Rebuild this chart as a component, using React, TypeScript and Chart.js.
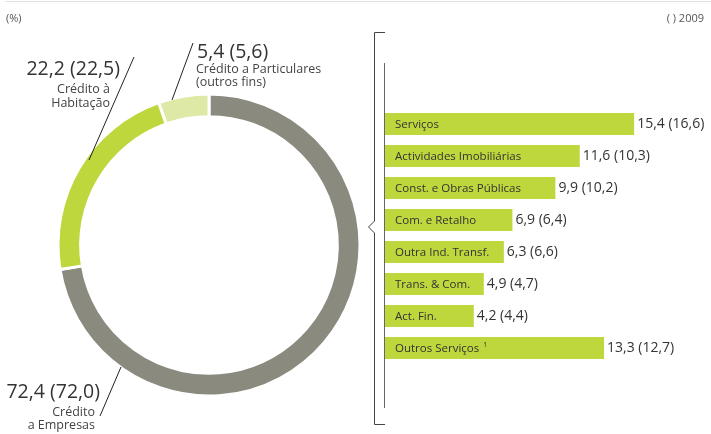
import React, { useEffect, useRef } from "react";
import { Chart, registerables } from "chart.js";
Chart.register(...registerables);

// ---- Data ----
const donutLabels = ["Crédito a Empresas", "Crédito à Habitação", "Crédito a Particulares (outros fins)"];
const donutValues = [72.4, 22.2, 5.4];
const donutPrev = [72.0, 22.5, 5.6];
const donutColors = ["#8a8a7f", "#bed73d", "#dde9a5"];

const sectorLabels = [
  "Serviços",
  "Actividades Imobiliárias",
  "Const. e Obras Públicas",
  "Com. e Retalho",
  "Outra Ind. Transf.",
  "Trans. & Com.",
  "Act. Fin.",
  "Outros Serviços",
];
const sectorValues = [15.4, 11.6, 9.9, 6.9, 6.3, 4.9, 4.2, 13.3];
const sectorPrev = [16.6, 10.3, 10.2, 6.4, 6.6, 4.7, 4.4, 12.7];
const barColor = "#bed73d";
const barScaleMin = -2;
const barScaleMax = 20;

const unitLabel = "(%)";
const yearLabel = "( ) 2009";

const FONT = "'Open Sans', 'DejaVu Sans', sans-serif";
const fmt = (v: number) => v.toFixed(1).replace(".", ",");

const W = 711;
const H = 434;

export default function App() {
  const donutRef = useRef<HTMLCanvasElement | null>(null);
  const barRef = useRef<HTMLCanvasElement | null>(null);

  useEffect(() => {
    const donutAnnot = {
      id: "donutAnnot",
      afterDraw(chart: any) {
        const ctx = chart.ctx as CanvasRenderingContext2D;
        ctx.save();
        // top rule
        ctx.strokeStyle = "#e2e2e2";
        ctx.lineWidth = 1;
        ctx.beginPath();
        ctx.moveTo(5, 1.5);
        ctx.lineTo(W, 1.5);
        ctx.stroke();

        ctx.fillStyle = "#555";
        ctx.font = `11px ${FONT}`;
        ctx.textBaseline = "middle";
        ctx.textAlign = "left";
        ctx.fillText(unitLabel, 6, 19);
        ctx.textAlign = "right";
        ctx.fillText(yearLabel, 704, 19);

        // leader lines
        ctx.strokeStyle = "#222";
        ctx.lineWidth = 1;
        const lines = [
          [100, 416, 121, 367],
          [134, 57, 89, 160],
          [193, 43, 172, 100],
        ];
        for (const [x1, y1, x2, y2] of lines) {
          ctx.beginPath();
          ctx.moveTo(x1, y1);
          ctx.lineTo(x2, y2);
          ctx.stroke();
        }

        ctx.textBaseline = "alphabetic";
        const big = `19.5px ${FONT}`;
        const small = `12.5px ${FONT}`;
        // Empresas
        ctx.fillStyle = "#333";
        ctx.textAlign = "right";
        ctx.font = big;
        ctx.fillText(`${fmt(donutValues[0])} (${fmt(donutPrev[0])})`, 100, 398);
        ctx.font = small;
        ctx.fillStyle = "#444";
        ctx.fillText("Crédito", 95, 416);
        ctx.fillText("a Empresas", 95, 429);
        // Habitação
        ctx.fillStyle = "#333";
        ctx.font = big;
        ctx.fillText(`${fmt(donutValues[1])} (${fmt(donutPrev[1])})`, 120, 75);
        ctx.font = small;
        ctx.fillStyle = "#444";
        ctx.fillText("Crédito à", 110, 93);
        ctx.fillText("Habitação", 110, 107);
        // Particulares
        ctx.textAlign = "left";
        ctx.fillStyle = "#333";
        ctx.font = big;
        ctx.fillText(`${fmt(donutValues[2])} (${fmt(donutPrev[2])})`, 197, 58);
        ctx.font = small;
        ctx.fillStyle = "#444";
        ctx.fillText("Crédito a Particulares", 196, 73);
        ctx.fillText("(outros fins)", 196, 86);
        ctx.restore();
      },
    };

    const donut = new Chart(donutRef.current as HTMLCanvasElement, {
      type: "doughnut",
      data: {
        labels: donutLabels,
        datasets: [
          {
            data: donutValues,
            backgroundColor: donutColors,
            borderColor: "#ffffff",
            borderWidth: 3,
            hoverOffset: 0,
          },
        ],
      },
      options: {
        responsive: false,
        devicePixelRatio: 1,
        animation: false,
        radius: 151,
        cutout: "85%",
        layout: { padding: { left: 59, right: 352, top: 95, bottom: 39 } },
        plugins: { legend: { display: false }, tooltip: { enabled: false } },
      } as any,
      plugins: [donutAnnot],
    });

    const barAnnot = {
      id: "barAnnot",
      afterDraw(chart: any) {
        const ctx = chart.ctx as CanvasRenderingContext2D;
        ctx.save();
        // bracket
        ctx.strokeStyle = "#444";
        ctx.lineWidth = 1;
        ctx.beginPath();
        ctx.moveTo(385, 32.5);
        ctx.lineTo(374.5, 32.5);
        ctx.lineTo(374.5, 221);
        ctx.lineTo(368.5, 227);
        ctx.lineTo(374.5, 233);
        ctx.lineTo(374.5, 424.5);
        ctx.lineTo(385, 424.5);
        ctx.stroke();
        // inner axis line
        ctx.strokeStyle = "#666";
        ctx.beginPath();
        ctx.moveTo(384.5, 63);
        ctx.lineTo(384.5, 408);
        ctx.stroke();

        const meta = chart.getDatasetMeta(0);
        meta.data.forEach((bar: any, i: number) => {
          ctx.textBaseline = "middle";
          ctx.textAlign = "left";
          ctx.fillStyle = "#333";
          ctx.font = `11.5px ${FONT}`;
          const lx = bar.base + 10;
          ctx.fillText(sectorLabels[i], lx, bar.y + 1);
          if (i === sectorLabels.length - 1) {
            const w = ctx.measureText(sectorLabels[i]).width;
            ctx.font = `7px ${FONT}`;
            ctx.fillText("1", lx + w + 4, bar.y - 3);
          }
          ctx.font = `14px ${FONT}`;
          ctx.fillText(`${fmt(sectorValues[i])} (${fmt(sectorPrev[i])})`, bar.x + 3, bar.y);
        });
        ctx.restore();
      },
    };

    const bars = new Chart(barRef.current as HTMLCanvasElement, {
      type: "bar",
      data: {
        labels: sectorLabels,
        datasets: [
          {
            data: sectorValues,
            backgroundColor: barColor,
            base: barScaleMin,
            barPercentage: 1,
            categoryPercentage: 0.69,
            borderWidth: 0,
          } as any,
        ],
      },
      options: {
        indexAxis: "y",
        responsive: false,
        devicePixelRatio: 1,
        animation: false,
        layout: { padding: { left: 385, right: 11, top: 108, bottom: 70 } },
        scales: {
          x: { display: false, min: barScaleMin, max: barScaleMax },
          y: { display: false },
        },
        plugins: { legend: { display: false }, tooltip: { enabled: false } },
      } as any,
      plugins: [barAnnot],
    });

    return () => {
      donut.destroy();
      bars.destroy();
    };
  }, []);

  return (
    <div style={{ position: "absolute", left: 0, top: 0, width: W, height: H, background: "#fff" }}>
      <canvas ref={donutRef} width={W} height={H} style={{ position: "absolute", left: 0, top: 0 }} />
      <canvas ref={barRef} width={W} height={H} style={{ position: "absolute", left: 0, top: 0 }} />
    </div>
  );
}
